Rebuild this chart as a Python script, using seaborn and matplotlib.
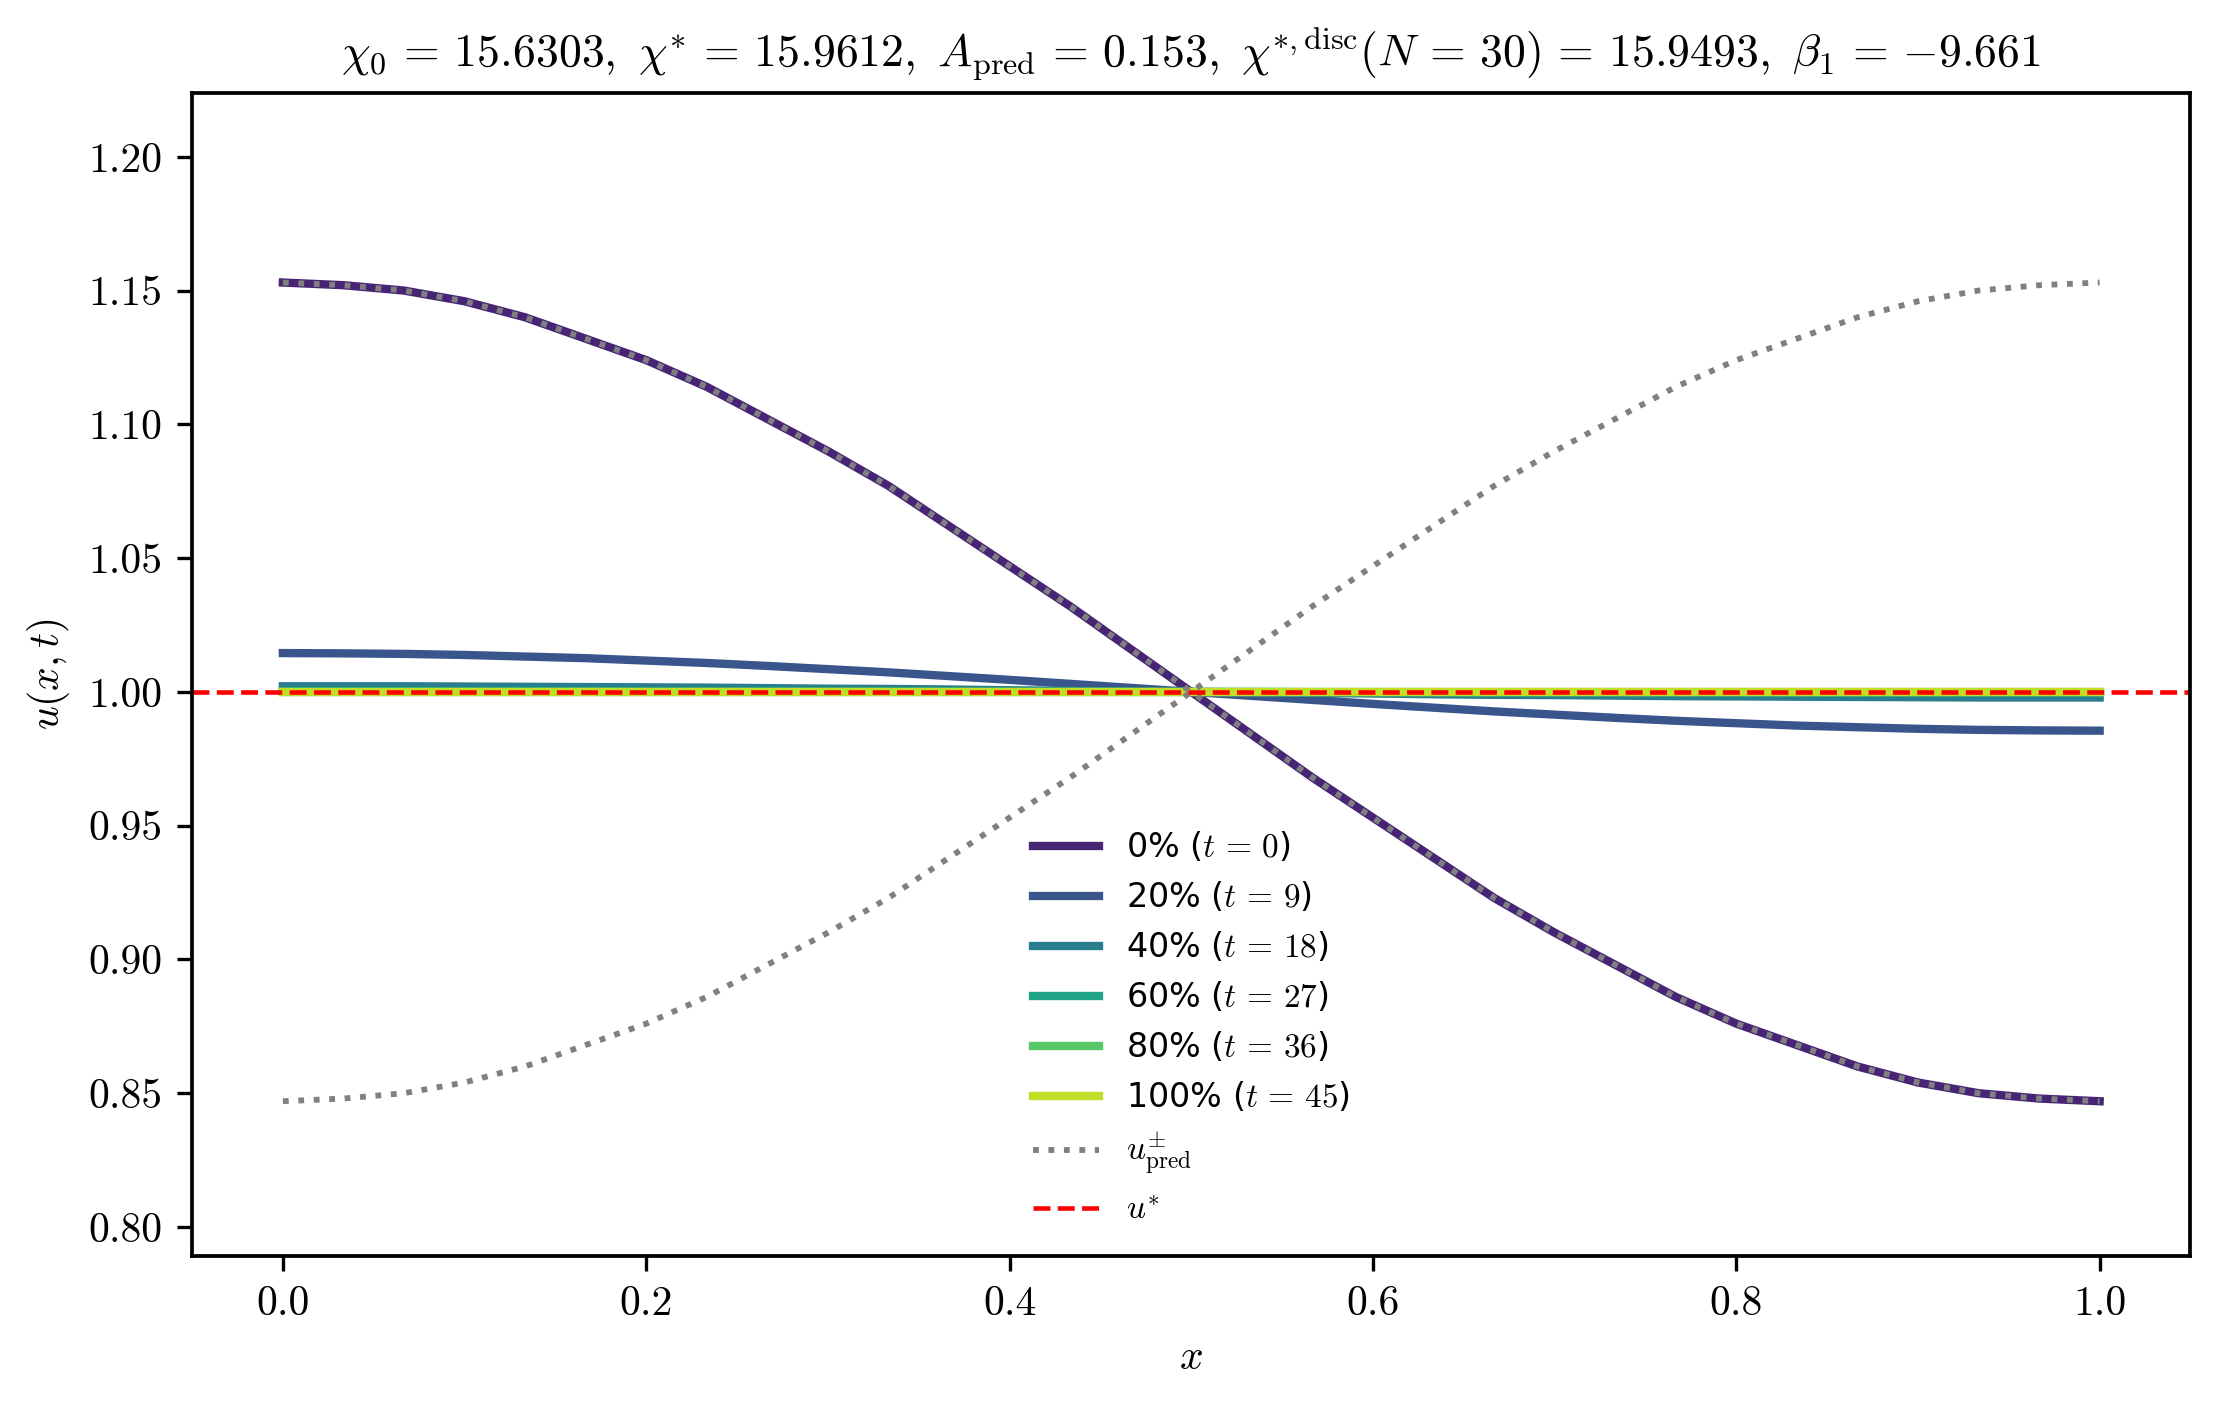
import numpy as np
import pandas as pd
import matplotlib
matplotlib.use("Agg")
import matplotlib.pyplot as plt
import seaborn as sns

# ---- data (31 grid points, N = 30) ----
x = [i / 30 for i in range(31)]

u_0 = [1.153, 1.152, 1.150, 1.146, 1.140, 1.132, 1.124, 1.114, 1.102, 1.090,
       1.077, 1.062, 1.047, 1.032, 1.016, 1.000, 0.984, 0.968, 0.953, 0.938,
       0.923, 0.910, 0.898, 0.886, 0.876, 0.868, 0.860, 0.854, 0.850, 0.848, 0.847]
u_20 = [1.0145, 1.0144, 1.0142, 1.0138, 1.0132, 1.0126, 1.0117, 1.0108, 1.0097, 1.0085,
        1.0073, 1.0059, 1.0045, 1.0030, 1.0015, 1.0000, 0.9985, 0.9970, 0.9955, 0.9941,
        0.9927, 0.9915, 0.9903, 0.9892, 0.9883, 0.9874, 0.9868, 0.9862, 0.9858, 0.9856, 0.9855]
u_40 = [1.0021, 1.0021, 1.0021, 1.0020, 1.0019, 1.0018, 1.0017, 1.0016, 1.0014, 1.0012,
        1.0011, 1.0009, 1.0006, 1.0004, 1.0002, 1.0000, 0.9998, 0.9996, 0.9994, 0.9991,
        0.9989, 0.9988, 0.9986, 0.9984, 0.9983, 0.9982, 0.9981, 0.9980, 0.9979, 0.9979, 0.9979]
u_60 = [1.0003, 1.0003, 1.0003, 1.0003, 1.0003, 1.0003, 1.0002, 1.0002, 1.0002, 1.0002,
        1.0002, 1.0001, 1.0001, 1.0001, 1.0000, 1.0000, 1.0000, 0.9999, 0.9999, 0.9999,
        0.9998, 0.9998, 0.9998, 0.9998, 0.9998, 0.9997, 0.9997, 0.9997, 0.9997, 0.9997, 0.9997]
u_80 = [1.0000] * 31
u_100 = [1.0000] * 31

u_pred_plus = list(u_0)
u_pred_minus = [0.847, 0.848, 0.850, 0.854, 0.860, 0.868, 0.876, 0.886, 0.898, 0.910,
                0.923, 0.938, 0.953, 0.968, 0.984, 1.000, 1.016, 1.032, 1.047, 1.062,
                1.077, 1.090, 1.102, 1.114, 1.124, 1.132, 1.140, 1.146, 1.150, 1.152, 1.153]
u_star = 1.0

percents = ["0%", "20%", "40%", "60%", "80%", "100%"]
times = [0, 9, 18, 27, 36, 45]
profiles = [u_0, u_20, u_40, u_60, u_80, u_100]

title = (r"$\chi_0 \,=\, 15.6303,\ \chi^{*} \,=\, 15.9612,\ A_{\rm pred} \,=\, 0.153,\ "
         r"\chi^{*,{\rm disc}}(N\,=\,30) \,=\, 15.9493,\ \beta_1 \,=\, {-9.661}$")

# ---- style ----
plt.rcParams.update({
    "font.family": "serif",
    "font.serif": ["cmr10", "DejaVu Serif"],
    "mathtext.fontset": "cm",
    "axes.formatter.use_mathtext": True,
    "axes.unicode_minus": True,
    "font.size": 10,
    "axes.linewidth": 0.9,
})

fig = plt.figure(figsize=(2220 / 300, 1409 / 300), dpi=300)
ax = fig.add_axes([0.0865, 0.1083, 0.9002, 0.8260])

cmap = sns.color_palette("viridis", as_cmap=True)
colors = [cmap(v) for v in np.linspace(0.1, 0.9, len(profiles))]

for p, t, prof, c in zip(percents, times, profiles, colors):
    df = pd.DataFrame({"x": x, "u": prof})
    sns.lineplot(data=df, x="x", y="u", color=c, lw=2.0, ax=ax,
                 label=rf"{p} ($t\,=\,{t}$)", sort=False, errorbar=None)

df_p = pd.DataFrame({"x": x, "u": u_pred_plus})
df_m = pd.DataFrame({"x": x, "u": u_pred_minus})
sns.lineplot(data=df_p, x="x", y="u", color="gray", lw=1.4, ls=":", ax=ax,
             label=r"$u^{\pm}_{\rm pred}$", sort=False, errorbar=None)
sns.lineplot(data=df_m, x="x", y="u", color="gray", lw=1.4, ls=":", ax=ax,
             sort=False, errorbar=None)
ax.axhline(u_star, color="red", lw=1.1, ls="--", label=r"$u^{*}$")

ax.set_xlim(-0.05, 1.05)
ax.set_ylim(0.789, 1.224)
ax.set_xticks([0.0, 0.2, 0.4, 0.6, 0.8, 1.0])
ax.set_yticks([0.80, 0.85, 0.90, 0.95, 1.00, 1.05, 1.10, 1.15, 1.20])
ax.set_xticklabels([f"{v:.1f}" for v in ax.get_xticks()])
ax.set_yticklabels([f"{v:.2f}" for v in ax.get_yticks()])
ax.tick_params(labelsize=10)
ax.set_xlabel(r"$x$", fontsize=10)
ax.set_ylabel(r"$u(x,t)$", fontsize=10)
ax.set_title(title, fontsize=11)

leg = ax.legend(loc="lower center", frameon=False, labelspacing=0.48,
                prop={"family": "DejaVu Sans", "size": 8})

fig.savefig("out.png", dpi=300)
